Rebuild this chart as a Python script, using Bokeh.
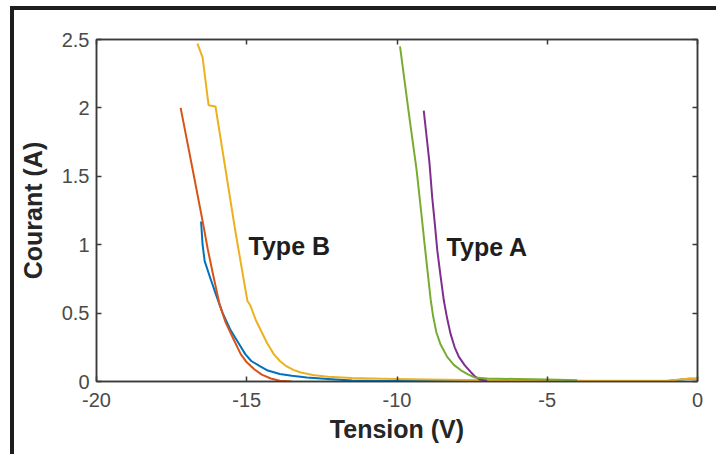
from bokeh.plotting import figure
from bokeh.models import LinearAxis, FixedTicker, Range1d, Label
from bokeh.embed import file_html
from bokeh.resources import INLINE

# ---- data ----
blue_v = [-16.52, -16.47, -16.4, -16.22, -16.0, -15.8, -15.55, -15.27, -15.05, -14.85, -14.55, -14.3,
          -13.9, -13.5, -13.0, -12.3, -11.5, -10.5, -9.0, -5.0, -1.0, -0.6, -0.3, 0.0]
blue_i = [1.17, 1.0, 0.88, 0.76, 0.62, 0.5, 0.38, 0.28, 0.2, 0.15, 0.11, 0.08,
          0.055, 0.042, 0.03, 0.018, 0.008, 0.004, 0.003, 0.003, 0.004, 0.012, 0.02, 0.02]

orange_v = [-17.2, -16.8, -16.45, -16.3, -16.1, -15.9, -15.7, -15.42, -15.2, -15.0, -14.75, -14.5,
            -14.2, -13.9, -13.5]
orange_i = [2.0, 1.55, 1.15, 0.97, 0.76, 0.56, 0.43, 0.3, 0.2, 0.14, 0.09, 0.05,
            0.022, 0.005, 0.0]

yellow_v = [-16.64, -16.47, -16.27, -16.04, -15.38, -14.98, -14.88, -14.7, -14.5, -14.32, -14.1, -13.9,
            -13.7, -13.45, -13.2, -12.8, -12.3, -11.5, -10.5, -9.0, -7.0, -4.0, -1.0, -0.6, -0.3, 0.0]
yellow_i = [2.47, 2.37, 2.02, 2.01, 1.1, 0.59, 0.555, 0.45, 0.36, 0.28, 0.2, 0.15,
            0.115, 0.085, 0.066, 0.048, 0.035, 0.025, 0.02, 0.015, 0.01, 0.006, 0.005, 0.015, 0.02, 0.02]

purple_v = [-9.11, -9.02, -8.92, -8.83, -8.74, -8.66, -8.55, -8.44, -8.33, -8.22, -8.08, -7.94,
            -7.75, -7.55, -7.4, -7.25, -7.0]
purple_i = [1.98, 1.8, 1.6, 1.35, 1.15, 0.96, 0.77, 0.59, 0.46, 0.35, 0.25, 0.18,
            0.12, 0.07, 0.035, 0.015, 0.005]

green_v = [-9.9, -9.6, -9.35, -9.2, -9.08, -8.98, -8.88, -8.8, -8.69, -8.55, -8.33, -8.1,
           -7.86, -7.62, -7.42, -7.0, -6.0, -5.0, -4.0]
green_i = [2.45, 1.95, 1.55, 1.25, 1.0, 0.8, 0.6, 0.48, 0.36, 0.27, 0.18, 0.12,
           0.08, 0.05, 0.03, 0.022, 0.018, 0.014, 0.01]

x_ticks = [-20, -15, -10, -5, 0]
x_tick_labels = ["-20", "-15", "-10", "-5", "0"]
y_ticks = [0, 0.5, 1, 1.5, 2, 2.5]
y_tick_labels = ["0", "0.5", "1", "1.5", "2", "2.5"]
x_title = "Tension (V)"
y_title = "Courant (A)"
labels = [("Type B", -14.94, 0.99), ("Type A", -8.35, 0.98)]

FONT = "Liberation Sans"
AX = "#3a3a3a"

p = figure(width=706, height=448, output_backend="svg", toolbar_location=None,
           x_range=Range1d(-20, 0), y_range=Range1d(0, 2.5),
           min_border_left=82, min_border_right=23, min_border_top=29, min_border_bottom=77,
           x_axis_label=x_title, y_axis_label=y_title,
           styles={"margin-left": "10px", "margin-top": "6px",
                   "border-left": "4px solid #1e1e1e", "border-top": "4px solid #1e1e1e"})
p.background_fill_color = "white"
p.border_fill_color = "white"
p.grid.visible = False
p.outline_line_color = AX
p.outline_line_width = 1.5

for ax, ticks, tl in ((p.xaxis[0], x_ticks, x_tick_labels), (p.yaxis[0], y_ticks, y_tick_labels)):
    ax.ticker = FixedTicker(ticks=ticks)
    ax.major_label_overrides = {t: s for t, s in zip(ticks, tl)}
    ax.axis_line_color = AX
    ax.axis_line_width = 1.5
    ax.major_tick_line_color = AX
    ax.major_tick_line_width = 1.5
    ax.major_tick_in = 5
    ax.major_tick_out = 0
    ax.minor_tick_line_color = None
    ax.major_label_text_font = FONT
    ax.major_label_text_font_size = "20px"
    ax.major_label_text_color = "#4a4a4a"
    ax.axis_label_text_font = FONT
    ax.axis_label_text_font_style = "bold"
    ax.axis_label_text_font_size = "25px"
    ax.axis_label_text_color = "#262626"

p.xaxis[0].major_label_standoff = 11
p.xaxis[0].axis_label_standoff = 5
p.yaxis[0].major_label_standoff = 7
p.yaxis[0].axis_label_standoff = 12

# mirrored ticks (box on)
for loc, ticks in (("right", y_ticks), ("above", x_ticks)):
    a = LinearAxis(ticker=FixedTicker(ticks=ticks))
    a.axis_line_color = AX
    a.axis_line_width = 1.5
    a.major_tick_line_color = AX
    a.major_tick_line_width = 1.5
    a.major_tick_in = 5
    a.major_tick_out = 0
    a.minor_tick_line_color = None
    a.major_label_text_font_size = "0px"
    a.major_label_text_alpha = 0
    p.add_layout(a, loc)

series = [
    (blue_v, blue_i, "#0072BD"),
    (orange_v, orange_i, "#D95319"),
    (yellow_v, yellow_i, "#EDB120"),
    (purple_v, purple_i, "#7E2F8E"),
    (green_v, green_i, "#77AC30"),
]
for xs, ys, c in series:
    p.line(xs, ys, line_color=c, line_width=2, line_join="round")

for txt, xv, yv in labels:
    p.add_layout(Label(x=xv, y=yv, text=txt, text_font=FONT, text_font_style="bold",
                       text_font_size="25px", text_color="#1e1e1e",
                       text_baseline="middle", text_align="left"))

open("out.html", "w").write(file_html(p, INLINE))
